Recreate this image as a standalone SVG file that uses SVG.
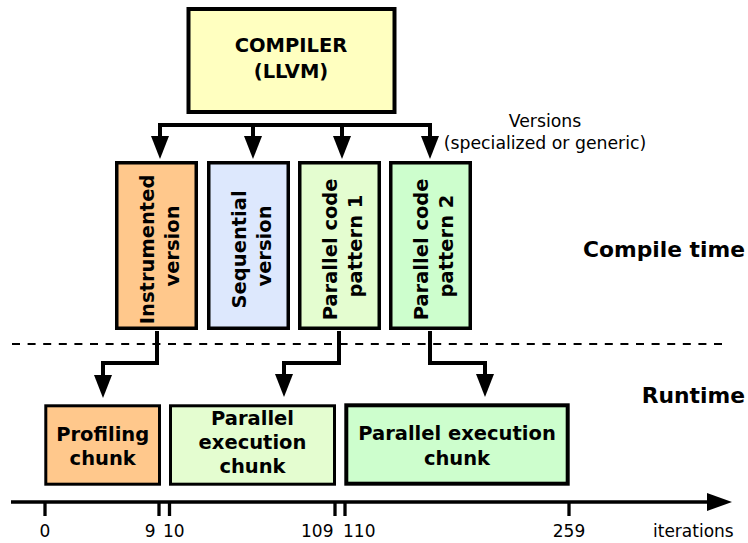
<svg xmlns="http://www.w3.org/2000/svg" width="748" height="543" viewBox="0 0 748 543">
  <style>
    .box { stroke: #000; }
    .bold { font-family: "DejaVu Sans", "Liberation Sans", sans-serif; font-weight: bold; fill: #000; }
    .reg { font-family: "DejaVu Sans", "Liberation Sans", sans-serif; fill: #000; }
    .conn { fill: none; stroke: #000; stroke-width: 4; }
  </style>
  <defs>
    <marker id="arrow" viewBox="0 0 23 18" refX="3" refY="9" markerWidth="23" markerHeight="18" markerUnits="userSpaceOnUse" orient="auto">
      <path d="M0,0 L23,9 L0,18 z" fill="#000"/>
    </marker>
    <marker id="axisArrow" viewBox="0 0 25 18" refX="5" refY="9" markerWidth="25" markerHeight="18" markerUnits="userSpaceOnUse" orient="auto">
      <path d="M0,0 L25,9 L0,18 z" fill="#000"/>
    </marker>
  </defs>

  <rect width="748" height="543" fill="#fff"/>

  <g id="connectors">
    <path class="conn" d="M160,139 V125 H430 V139" marker-end="url(#arrow)"/>
    <path class="conn" d="M160,125 V139" marker-end="url(#arrow)"/>
    <path class="conn" d="M253,125 V139" marker-end="url(#arrow)"/>
    <path class="conn" d="M342,125 V139" marker-end="url(#arrow)"/>
    <path class="conn" d="M157,331 V363 H103 V378" marker-end="url(#arrow)"/>
    <path class="conn" d="M339,331 V363 H284 V377" marker-end="url(#arrow)"/>
    <path class="conn" d="M430,331 V363 H485 V377" marker-end="url(#arrow)"/>
  </g>

  <g id="separator">
    <path d="M12,344 H724" stroke="#000" stroke-width="2" stroke-dasharray="8 7.6" fill="none"/>
  </g>

  <g id="compiler">
    <rect class="box" x="188.5" y="9" width="206" height="103" fill="#ffffc0" stroke-width="4"/>
    <text class="bold" font-size="19.5" text-anchor="middle" x="291" y="52">COMPILER</text>
    <text class="bold" font-size="19.5" text-anchor="middle" x="291" y="77.5">(LLVM)</text>
  </g>

  <g id="versions-label">
    <text class="reg" font-size="17.3" text-anchor="middle" x="545" y="127">Versions</text>
    <text class="reg" font-size="17.3" text-anchor="middle" x="545" y="149">(specialized or generic)</text>
  </g>

  <g id="instrumented">
    <rect class="box" x="116.75" y="162.75" width="79.5" height="165.5" fill="#ffc88c" stroke-width="3.5"/>
    <text class="bold" font-size="19.5" text-anchor="middle" transform="translate(156.5,246) rotate(-90)">
      <tspan x="0" y="-3">Instrumented</tspan>
      <tspan x="0" y="22">version</tspan>
    </text>
  </g>

  <g id="sequential">
    <rect class="box" x="208.75" y="162.75" width="79.5" height="165.5" fill="#dde8fd" stroke-width="3.5"/>
    <text class="bold" font-size="19.5" text-anchor="middle" transform="translate(248.5,246) rotate(-90)">
      <tspan x="0" y="-3">Sequential</tspan>
      <tspan x="0" y="22">version</tspan>
    </text>
  </g>

  <g id="pattern1">
    <rect class="box" x="299.75" y="162.75" width="79.5" height="165.5" fill="#e4fdd0" stroke-width="3.5"/>
    <text class="bold" font-size="19.5" text-anchor="middle" transform="translate(339.5,246) rotate(-90)">
      <tspan x="0" y="-3">Parallel code</tspan>
      <tspan x="0" y="22">pattern 1</tspan>
    </text>
  </g>

  <g id="pattern2">
    <rect class="box" x="390.75" y="162.75" width="79.5" height="165.5" fill="#cdfecd" stroke-width="3.5"/>
    <text class="bold" font-size="19.5" text-anchor="middle" transform="translate(430.5,246) rotate(-90)">
      <tspan x="0" y="-3">Parallel code</tspan>
      <tspan x="0" y="22">pattern 2</tspan>
    </text>
  </g>

  <g id="phase-labels">
    <text class="bold" font-size="21.8" text-anchor="end" x="745" y="257">Compile time</text>
    <text class="bold" font-size="21.8" text-anchor="end" x="745" y="403">Runtime</text>
  </g>

  <g id="profiling-chunk">
    <rect class="box" x="45.8" y="405.8" width="113.7" height="78.4" fill="#ffc88c" stroke-width="3"/>
    <text class="bold" font-size="19.5" text-anchor="middle" x="102.7" y="440.5">Profiling</text>
    <text class="bold" font-size="19.5" text-anchor="middle" x="102.7" y="464.5">chunk</text>
  </g>

  <g id="parallel-chunk-1">
    <rect class="box" x="170.5" y="405.8" width="164" height="78.4" fill="#e4fdd0" stroke-width="3"/>
    <text class="bold" font-size="19.5" text-anchor="middle" x="252.5" y="425">Parallel</text>
    <text class="bold" font-size="19.5" text-anchor="middle" x="252.5" y="449">execution</text>
    <text class="bold" font-size="19.5" text-anchor="middle" x="252.5" y="473">chunk</text>
  </g>

  <g id="parallel-chunk-2">
    <rect class="box" x="346.3" y="405.3" width="221.4" height="78.4" fill="#cdfecd" stroke-width="4"/>
    <text class="bold" font-size="19.5" text-anchor="middle" x="457" y="440.2">Parallel execution</text>
    <text class="bold" font-size="19.5" text-anchor="middle" x="457" y="464.5">chunk</text>
  </g>

  <g id="axis">
    <path d="M11,502 H712" stroke="#000" stroke-width="3.5" fill="none" marker-end="url(#axisArrow)"/>
    <g stroke="#000" stroke-width="3.3">
      <line x1="45" y1="502" x2="45" y2="516"/>
      <line x1="159" y1="502" x2="159" y2="516"/>
      <line x1="169.5" y1="502" x2="169.5" y2="516"/>
      <line x1="335" y1="502" x2="335" y2="516"/>
      <line x1="345" y1="502" x2="345" y2="516"/>
      <line x1="569" y1="502" x2="569" y2="516"/>
    </g>
    <text class="reg" font-size="17" text-anchor="middle" x="45" y="537">0</text>
    <text class="reg" font-size="17" text-anchor="end" x="155.5" y="537">9</text>
    <text class="reg" font-size="17" text-anchor="start" x="163" y="537">10</text>
    <text class="reg" font-size="17" text-anchor="end" x="333.5" y="537">109</text>
    <text class="reg" font-size="17" text-anchor="start" x="343" y="537">110</text>
    <text class="reg" font-size="17" text-anchor="middle" x="569" y="537">259</text>
    <text class="reg" font-size="17" text-anchor="start" x="653" y="537">iterations</text>
  </g>
</svg>
